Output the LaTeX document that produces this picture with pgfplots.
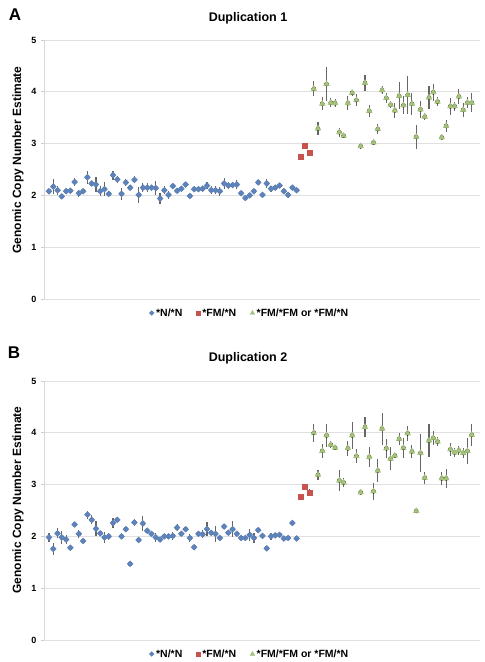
\documentclass[border=0pt]{standalone}
\usepackage{fontspec}
\setmainfont{Liberation Sans}
\usepackage{pgfplots}
\usepackage{pgfplotstable}
\pgfplotsset{compat=1.18}
\definecolor{cblue}{HTML}{5E83BA}
\definecolor{cred}{HTML}{C8524D}
\definecolor{cgreen}{HTML}{A5C27A}

\pgfplotstableread{
x y e
1 2.08 0.05
2 2.17 0.14
3 2.10 0.09
4 1.98 0.04
5 2.08 0.06
6 2.09 0.06
7 2.26 0.07
8 2.04 0.07
9 2.08 0.04
10 2.35 0.13
11 2.23 0.05
12 2.21 0.15
13 2.08 0.10
14 2.12 0.13
15 2.03 0.06
16 2.39 0.09
17 2.31 0.07
18 2.03 0.12
19 2.25 0.06
20 2.15 0.04
21 2.30 0.07
22 2.01 0.15
23 2.15 0.09
24 2.15 0.08
25 2.15 0.06
26 2.14 0.14
27 1.94 0.10
28 2.10 0.08
29 2.01 0.08
30 2.18 0.04
31 2.09 0.04
32 2.13 0.06
33 2.21 0.04
34 1.99 0.04
35 2.12 0.06
36 2.12 0.06
37 2.13 0.06
38 2.19 0.06
39 2.10 0.08
40 2.10 0.08
41 2.08 0.09
42 2.23 0.10
43 2.19 0.06
44 2.20 0.06
45 2.21 0.08
46 2.04 0.04
47 1.95 0.04
48 2.00 0.04
49 2.08 0.05
50 2.25 0.04
51 2.01 0.04
52 2.23 0.09
53 2.13 0.06
54 2.15 0.04
55 2.19 0.04
56 2.08 0.06
57 2.01 0.06
58 2.15 0.05
59 2.10 0.04
}\blueA
\pgfplotstableread{
x y e
60 2.75 0.02
61 2.95 0.02
62 2.82 0.05
}\redA
\pgfplotstableread{
x y e
63 4.06 0.14
64 3.29 0.13
65 3.77 0.13
66 4.15 0.32
67 3.79 0.09
68 3.78 0.08
69 3.22 0.09
70 3.15 0.03
71 3.78 0.13
72 3.98 0.06
73 3.84 0.12
74 2.95 0.06
75 4.17 0.15
76 3.63 0.12
77 3.02 0.03
78 3.28 0.10
79 4.03 0.08
80 3.88 0.10
81 3.75 0.07
82 3.64 0.15
83 3.92 0.26
84 3.74 0.17
85 3.94 0.37
86 3.77 0.21
87 3.13 0.23
88 3.66 0.17
89 3.52 0.07
90 3.89 0.22
91 3.99 0.16
92 3.81 0.08
93 3.12 0.03
94 3.34 0.11
95 3.72 0.16
96 3.72 0.09
97 3.91 0.15
98 3.65 0.13
99 3.79 0.11
100 3.79 0.18
}\greenA
\pgfplotstableread{
x y e
1 1.98 0.08
2 1.76 0.11
3 2.06 0.10
4 1.98 0.12
5 1.94 0.09
6 1.78 0.03
7 2.23 0.03
8 2.05 0.08
9 1.91 0.03
10 2.42 0.08
11 2.32 0.09
12 2.15 0.15
13 2.06 0.03
14 1.98 0.11
15 2.00 0.07
16 2.26 0.10
17 2.32 0.03
18 2.00 0.03
19 2.14 0.03
20 1.47 0.03
21 2.27 0.06
22 1.93 0.03
23 2.25 0.14
24 2.11 0.03
25 2.05 0.03
26 1.98 0.08
27 1.94 0.03
28 2.00 0.03
29 2.00 0.03
30 2.01 0.08
31 2.17 0.06
32 2.05 0.03
33 2.14 0.03
34 1.97 0.07
35 1.79 0.03
36 2.05 0.03
37 2.04 0.08
38 2.14 0.14
39 2.07 0.03
40 2.05 0.15
41 1.97 0.03
42 2.19 0.03
43 2.07 0.03
44 2.14 0.15
45 2.05 0.03
46 1.97 0.03
47 1.97 0.03
48 2.03 0.12
49 1.97 0.10
50 2.12 0.03
51 2.01 0.03
52 1.77 0.03
53 2.00 0.07
54 2.02 0.03
55 2.03 0.03
56 1.96 0.03
57 1.97 0.03
58 2.26 0.06
59 1.96 0.03
}\blueB
\pgfplotstableread{
x y e
60 2.77 0.02
61 2.95 0.02
62 2.85 0.06
}\redB
\pgfplotstableread{
x y e
63 4.00 0.17
64 3.19 0.10
65 3.65 0.13
66 3.95 0.22
67 3.77 0.07
68 3.71 0.03
69 3.08 0.20
70 3.04 0.09
71 3.70 0.15
72 3.95 0.26
73 3.55 0.14
74 2.85 0.03
75 4.11 0.19
76 3.53 0.19
77 2.87 0.17
78 3.27 0.22
79 4.08 0.31
80 3.70 0.19
81 3.50 0.22
82 3.56 0.03
83 3.88 0.12
84 3.71 0.19
85 3.99 0.15
86 3.64 0.13
87 2.49 0.03
88 3.61 0.36
89 3.13 0.12
90 3.85 0.32
91 3.90 0.13
92 3.83 0.08
93 3.12 0.12
94 3.12 0.18
95 3.68 0.12
96 3.62 0.09
97 3.66 0.08
98 3.61 0.10
99 3.65 0.25
100 3.96 0.21
}\greenB

\pgfplotsset{
  baseax/.style={
    width=436pt, height=259pt, scale only axis,
    xmin=-0.17, xmax=101.94, ymin=0, ymax=5,
    clip=false,
  },
  myax/.style={
    baseax,
    ytick={0,1,2,3,4,5}, xtick=\empty,
    axis y line*=left, axis x line=none,
    ymajorgrids, grid style={color=black!12, line width=0.8pt},
    y axis line style={color=black!15, line width=0.8pt},
    ytick style={color=black!20, line width=0.8pt},
    tick align=outside, major tick length=3pt,
    /pgf/number format/assume math mode=true,
    yticklabel style={font=\bfseries\fontsize{9}{10}\selectfont, xshift=-1pt},
  },
  ovax/.style={
    baseax,
    axis lines=none, xtick=\empty, ytick=\empty,
    legend columns=3,
    legend style={draw=none, fill=none, font=\bfseries\fontsize{10.5}{12}\selectfont,
      at={(0.472,0)}, anchor=center, yshift=-14pt,
      /tikz/every even column/.append style={column sep=12pt},
      inner sep=0pt},
    legend image code/.code={\draw[##1] plot coordinates {(3pt,0pt)};},
  },
  eb/.style={only marks, mark=none,
    error bars/y dir=both, error bars/y explicit,
    error bars/error mark=none,
    error bars/error bar style={color=black!60, line width=1.1pt}},
  sb/.style={only marks, mark=square*, mark size=2.1pt, color=cblue, mark options={rotate=45, fill=cblue, draw=cblue},
    legend image post style={mark size=1.7pt}},
  sr/.style={only marks, mark=square*, mark size=2.5pt, color=cred, mark options={fill=cred, draw=cred},
    legend image post style={mark size=2pt}},
  sg/.style={only marks, mark=triangle*, mark size=3.3pt, color=cgreen, mark options={fill=cgreen, draw=cgreen},
    legend image post style={mark size=2.6pt}},
}

\begin{document}
\begin{tikzpicture}
\path[use as bounding box] (0pt,0pt) rectangle (485pt,662pt);
% Panel A
\node[font=\bfseries\fontsize{17}{18}\selectfont] at (15pt,647pt) {A};
\node[font=\bfseries\fontsize{12.5}{14}\selectfont] at (248pt,644pt) {Duplication 1};
\node[font=\bfseries\fontsize{12}{14}\selectfont, rotate=90] at (18pt,502pt) {Genomic Copy Number Estimate};
\begin{axis}[myax, at={(44pt,363pt)}, anchor=south west]
\addplot[eb] table[x=x,y=y,y error=e] {\blueA};
\addplot[eb] table[x=x,y=y,y error=e] {\redA};
\addplot[eb] table[x=x,y=y,y error=e] {\greenA};
\end{axis}
\begin{axis}[ovax, at={(44pt,363pt)}, anchor=south west]
\addplot[sb] table[x=x,y=y] {\blueA};
\addlegendentry{*N/*N}
\addplot[sr] table[x=x,y=y] {\redA};
\addlegendentry{*FM/*N}
\addplot[sg] table[x=x,y=y] {\greenA};
\addlegendentry{*FM/*FM or *FM/*N}
\end{axis}
% Panel B
\node[font=\bfseries\fontsize{17}{18}\selectfont] at (14pt,309pt) {B};
\node[font=\bfseries\fontsize{12.5}{14}\selectfont] at (248pt,304pt) {Duplication 2};
\node[font=\bfseries\fontsize{12}{14}\selectfont, rotate=90] at (18pt,162pt) {Genomic Copy Number Estimate};
\begin{axis}[myax, at={(44pt,22pt)}, anchor=south west]
\addplot[eb] table[x=x,y=y,y error=e] {\blueB};
\addplot[eb] table[x=x,y=y,y error=e] {\redB};
\addplot[eb] table[x=x,y=y,y error=e] {\greenB};
\end{axis}
\begin{axis}[ovax, at={(44pt,22pt)}, anchor=south west]
\addplot[sb] table[x=x,y=y] {\blueB};
\addlegendentry{*N/*N}
\addplot[sr] table[x=x,y=y] {\redB};
\addlegendentry{*FM/*N}
\addplot[sg] table[x=x,y=y] {\greenB};
\addlegendentry{*FM/*FM or *FM/*N}
\end{axis}
\end{tikzpicture}
\end{document}
